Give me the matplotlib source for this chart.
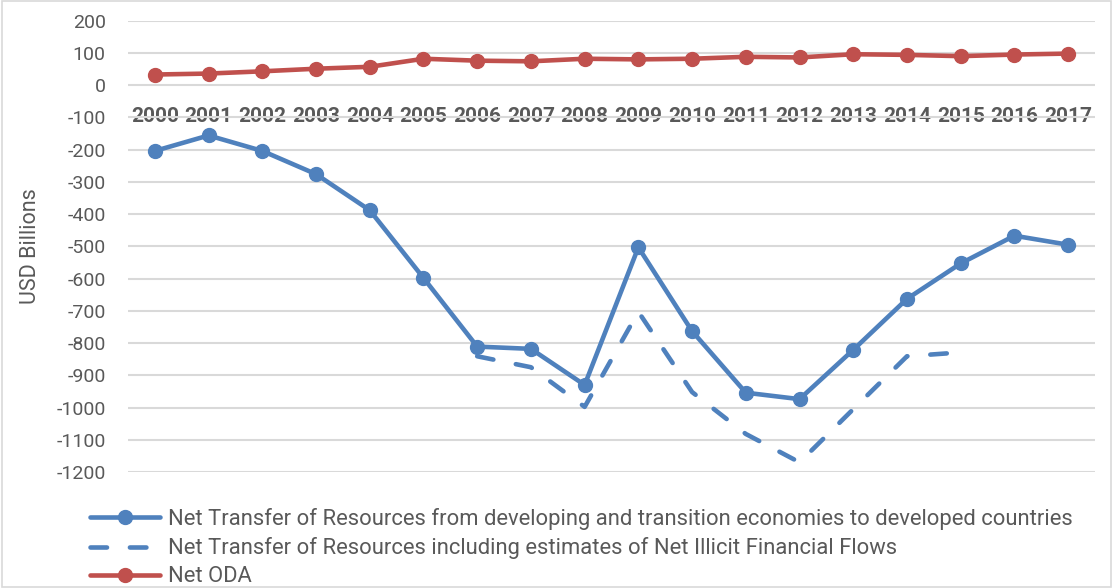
import matplotlib
matplotlib.use("Agg")
import matplotlib.pyplot as plt
from matplotlib.patches import Rectangle
import numpy as np

years = [str(y) for y in range(2000, 2018)]
net_transfer = [-204, -156, -204, -276, -388, -598, -811, -818, -930, -503,
                -763, -954, -974, -821, -663, -553, -467, -495]
illicit_years = ["2006", "2007", "2008", "2009", "2010", "2011", "2012", "2013", "2014", "2015"]
net_transfer_iff = [-841, -875, -998, -703, -952, -1082, -1170, -1005, -841, -829]
net_oda = [33, 36, 43, 51, 57, 82, 76, 74, 82, 80, 82, 88, 86, 96, 94, 90, 95, 98]

labels = ["Net Transfer of Resources from developing and transition economies to developed countries",
          "Net Transfer of Resources including estimates of Net Illicit Financial Flows",
          "Net ODA"]

BLUE = "#4f81bd"
RED = "#c0504d"
GRAY = "#595959"
GRID = "#d9d9d9"

plt.rcParams['font.family'] = ['Roboto', 'DejaVu Sans']
plt.rcParams['axes.unicode_minus'] = False

W, H = 1113, 588
fig = plt.figure(figsize=(W / 100, H / 100), dpi=100)
fig.patches.append(Rectangle((0.002, 0.002), 0.996, 0.996, transform=fig.transFigure,
                             fill=False, edgecolor=GRID, linewidth=1.2))

ax = fig.add_axes([128 / W, (H - 472) / H, (1095 - 128) / W, (472 - 20.7) / H])

x = np.arange(len(years))
xi = np.array([years.index(y) for y in illicit_years])

l1, = ax.plot(x, net_transfer, color=BLUE, lw=3.3, marker='o', ms=10,
              solid_capstyle='round', zorder=3)
l2, = ax.plot(xi, net_transfer_iff, color=BLUE, lw=3.3, linestyle=(0, (3.6, 5.0)),
              dash_capstyle='round', zorder=2)
l3, = ax.plot(x, net_oda, color=RED, lw=3.3, marker='o', ms=10,
              solid_capstyle='round', zorder=3)

ax.set_xlim(-0.5, len(years) - 0.5)
ax.set_ylim(-1200, 200)
ax.set_yticks(np.arange(-1200, 201, 100))
ax.grid(axis='y', color=GRID, lw=1.5, zorder=0)
ax.set_axisbelow(True)
for s in ax.spines.values():
    s.set_visible(False)
ax.spines['bottom'].set_position(('data', 0))
ax.set_xticks(x)
ax.set_xticklabels(years, fontsize=15, fontweight='bold', color=GRAY)
ax.tick_params(axis='x', length=0, pad=15.5)
ax.tick_params(axis='y', length=0, pad=16, labelsize=14, labelcolor=GRAY)

fig.text(30 / W, 1 - 246 / H, "USD Billions", rotation=90, ha='center', va='center',
         fontsize=15.5, color=GRAY)

leg = fig.legend([l1, l2, l3], labels, loc='upper left',
                 bbox_to_anchor=(90 / W, 1 - 508 / H), frameon=False,
                 fontsize=15.8, handlelength=3.2, handletextpad=0.37,
                 labelspacing=0.33, borderaxespad=0, borderpad=0)
for t in leg.get_texts():
    t.set_color(GRAY)

fig.savefig("out.png", dpi=100)
